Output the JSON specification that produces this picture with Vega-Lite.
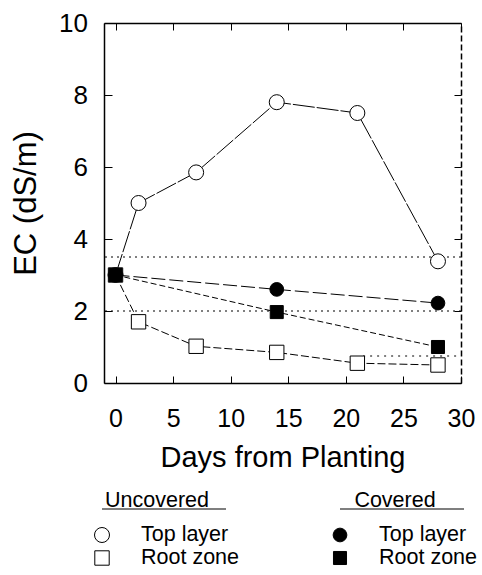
{
  "$schema": "https://vega.github.io/schema/vega-lite/v6.json",
  "padding": {"left": 10, "top": 10, "right": 5, "bottom": 5},
  "background": "white",
  "bounds": "flush",
  "spacing": 152,
  "config": {
    "view": {"stroke": null},
    "font": "Liberation Sans",
    "axis": {"labelFont": "Liberation Sans", "titleFont": "Liberation Sans", "labelColor": "black", "titleColor": "black", "domainColor": "black", "tickColor": "black", "titleFontWeight": "normal", "grid": false}
  },
  "vconcat": [
    {
      "width": 357,
      "height": 360,
      "data": {"values": [
        {"series": "UT", "day": 0, "ec": 3.0},
        {"series": "UT", "day": 2, "ec": 5.0},
        {"series": "UT", "day": 7, "ec": 5.85},
        {"series": "UT", "day": 14, "ec": 7.8},
        {"series": "UT", "day": 21, "ec": 7.5},
        {"series": "UT", "day": 28, "ec": 3.38},
        {"series": "UR", "day": 0, "ec": 3.0},
        {"series": "UR", "day": 2, "ec": 1.7},
        {"series": "UR", "day": 7, "ec": 1.02},
        {"series": "UR", "day": 14, "ec": 0.85},
        {"series": "UR", "day": 21, "ec": 0.55},
        {"series": "UR", "day": 28, "ec": 0.5},
        {"series": "CT", "day": 0, "ec": 3.0},
        {"series": "CT", "day": 14, "ec": 2.6},
        {"series": "CT", "day": 28, "ec": 2.22},
        {"series": "CR", "day": 0, "ec": 3.0},
        {"series": "CR", "day": 14, "ec": 1.97},
        {"series": "CR", "day": 28, "ec": 1.0}
      ]},
      "resolve": {"axis": {"x": "independent", "y": "independent"}},
      "layer": [
        {
          "data": {"values": [{"level": 3.5}, {"level": 2.0}]},
          "mark": {"type": "rule", "color": "black", "strokeWidth": 1, "strokeDash": [2, 4]},
          "encoding": {"y": {"field": "level", "type": "quantitative", "scale": {"domain": [0, 10], "nice": false}, "axis": null}}
        },
        {
          "data": {"values": [{"from": 21.5, "to": 30, "level": 0.75}]},
          "mark": {"type": "rule", "color": "black", "strokeWidth": 1, "strokeDash": [2, 5]},
          "encoding": {
            "x": {"field": "from", "type": "quantitative", "axis": null},
            "x2": {"field": "to"},
            "y": {"field": "level", "type": "quantitative", "axis": null}
          }
        },
        {
          "mark": {"type": "line", "color": "black", "strokeWidth": 1},
          "encoding": {
            "x": {"field": "day", "type": "quantitative", "scale": {"domain": [-1, 30], "nice": false, "zero": false},
              "axis": {"orient": "bottom", "values": [0, 5, 10, 15, 20, 25, 30], "tickSize": -7, "labelPadding": 30, "labelFontSize": 25, "title": "Days from Planting", "titleFontSize": 29, "titlePadding": 12, "labelFlush": false, "domainWidth": 1.5}},
            "y": {"field": "ec", "type": "quantitative", "scale": {"domain": [0, 10], "nice": false},
              "axis": {"orient": "left", "values": [0, 2, 4, 6, 8, 10], "tickSize": -8, "labelPadding": 24.5, "labelFontSize": 26, "title": "EC (dS/m)", "titleFontSize": 31, "titlePadding": 16, "labelFlush": false, "domainWidth": 1.5}},
            "detail": {"field": "series"},
            "strokeDash": {"field": "series", "type": "nominal", "legend": null,
              "scale": {"domain": ["UT", "UR", "CT", "CR"], "range": [[22, 2], [8, 3], [14, 4], [6, 3]]}}
          }
        },
        {
          "mark": {"type": "point", "filled": true, "stroke": "black", "strokeWidth": 1, "opacity": 1},
          "encoding": {
            "x": {"field": "day", "type": "quantitative",
              "axis": {"orient": "top", "values": [0, 5, 10, 15, 20, 25, 30], "tickSize": -7, "labels": false, "title": null, "domainWidth": 1.5}},
            "y": {"field": "ec", "type": "quantitative",
              "axis": {"orient": "right", "values": [0, 2, 4, 6, 8, 10], "tickSize": -7, "labels": false, "title": null, "domainDash": [6, 3], "domainWidth": 1.5}},
            "shape": {"field": "series", "type": "nominal", "legend": null,
              "scale": {"domain": ["UT", "UR", "CT", "CR"], "range": ["circle", "square", "circle", "square"]}},
            "fill": {"field": "series", "type": "nominal", "legend": null,
              "scale": {"domain": ["UT", "UR", "CT", "CR"], "range": ["white", "white", "black", "black"]}},
            "size": {"field": "series", "type": "nominal", "legend": null,
              "scale": {"domain": ["UT", "UR", "CT", "CR"], "range": [225, 170, 256, 190]}}
          }
        }
      ]
    },
    {
      "width": 238,
      "height": 23,
      "data": {"values": [
        {"group": "Uncovered", "item": "Top layer", "series": "UT"},
        {"group": "Uncovered", "item": "Root zone", "series": "UR"},
        {"group": "Covered", "item": "Top layer", "series": "CT"},
        {"group": "Covered", "item": "Root zone", "series": "CR"}
      ]},
      "encoding": {
        "x": {"field": "group", "type": "nominal", "scale": {"type": "point", "domain": ["Uncovered", "Covered"], "padding": 0}, "axis": null},
        "y": {"field": "item", "type": "nominal", "scale": {"type": "point", "domain": ["Top layer", "Root zone"], "padding": 0}, "axis": null}
      },
      "layer": [
        {
          "mark": {"type": "point", "filled": true, "stroke": "black", "strokeWidth": 1, "opacity": 1, "xOffset": -2},
          "encoding": {
            "shape": {"field": "series", "type": "nominal", "legend": null,
              "scale": {"domain": ["UT", "UR", "CT", "CR"], "range": ["circle", "square", "circle", "square"]}},
            "fill": {"field": "series", "type": "nominal", "legend": null,
              "scale": {"domain": ["UT", "UR", "CT", "CR"], "range": ["white", "white", "black", "black"]}},
            "size": {"field": "series", "type": "nominal", "legend": null,
              "scale": {"domain": ["UT", "UR", "CT", "CR"], "range": [100, 110, 144, 144]}}
          }
        },
        {
          "mark": {"type": "text", "align": "left", "baseline": "middle", "dx": 37, "fontSize": 21.5, "font": "Liberation Sans", "color": "black"},
          "encoding": {"text": {"field": "item"}}
        },
        {
          "transform": [{"filter": "datum.item === 'Top layer'"}],
          "mark": {"type": "text", "align": "center", "baseline": "middle", "dx": 53, "dy": -34, "fontSize": 21.5, "font": "Liberation Sans", "color": "black"},
          "encoding": {"text": {"field": "group"}}
        },
        {
          "transform": [{"filter": "datum.item === 'Top layer'"}],
          "mark": {"type": "tick", "orient": "horizontal", "size": 124, "thickness": 1, "color": "black", "xOffset": 60, "yOffset": -26, "opacity": 1}
        }
      ]
    }
  ]
}
